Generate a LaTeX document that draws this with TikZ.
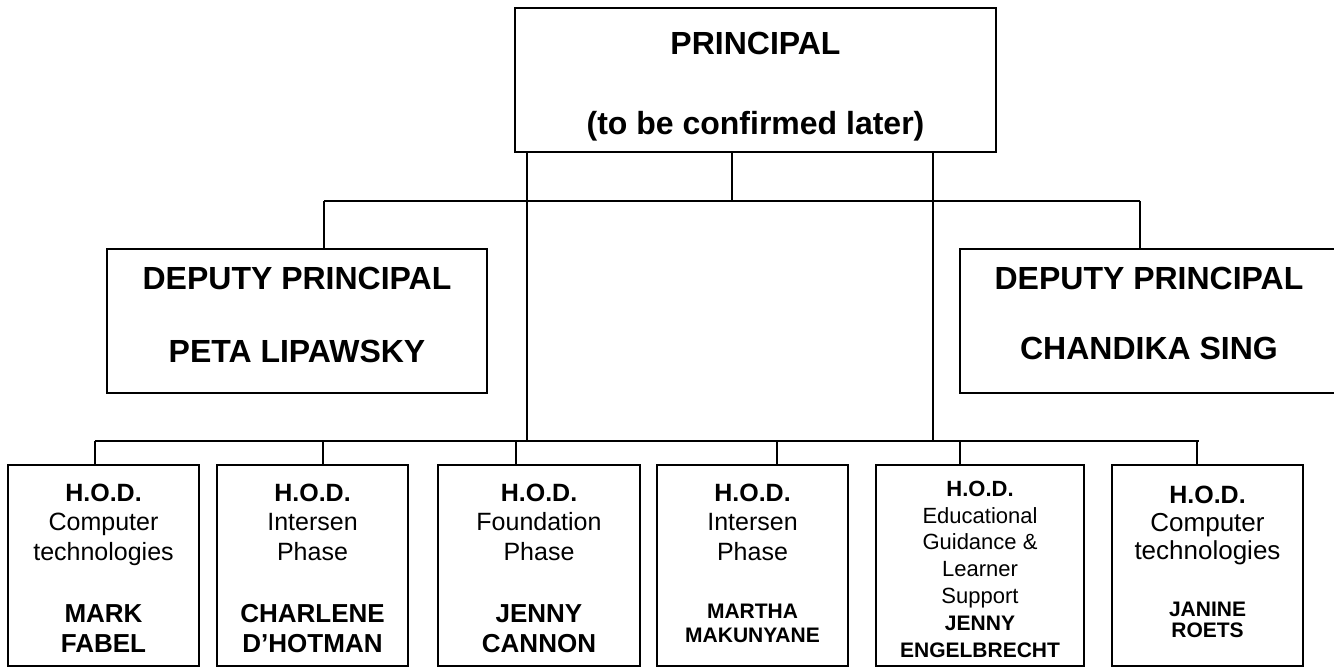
\documentclass[tikz,border=0pt]{standalone}
\usepackage{fontspec}
\setmainfont{Liberation Sans}
\newcommand{\hodname}[2][13]{{\fontsize{#1}{15}\selectfont\bfseries #2}}
\tikzset{
  box/.style={shape=rectangle, draw=black, line width=1.2pt, inner sep=0pt, align=center},
  hod/.style={box, minimum height=100.5pt, text depth=4pt},
  wire/.style={draw=black, line width=0.9pt},
}
\begin{document}
\begin{tikzpicture}[x=0.5pt, y=-0.5pt]
        \useasboundingbox (0,0) rectangle (1334,668);
        \clip (0,0) rectangle (1334,668);

        \node[box, minimum width=240.5pt, minimum height=72pt, text height=59pt, text depth=4pt,
              font=\bfseries\fontsize{16}{40}\selectfont] (principal) at (755.5,80)
              {PRINCIPAL\\(to be confirmed later)};
        \node[box, minimum width=190pt, minimum height=72pt, text height=46pt, text depth=4pt,
              font=\bfseries\fontsize{16}{36.5}\selectfont] (deputy-1) at (297,321)
              {DEPUTY PRINCIPAL\\PETA LIPAWSKY};
        \node[box, minimum width=189pt, minimum height=72pt, text height=43pt, text depth=4pt,
              font=\bfseries\fontsize{16}{35.5}\selectfont] (deputy-2) at (1149,321)
              {DEPUTY PRINCIPAL\\CHANDIKA SING};

        \node[hod, minimum width=95.5pt, text height=90.5pt, font=\fontsize{12.5}{14.75}\selectfont] (hod-1) at (103.5,565.5)
              {\textbf{H.O.D.}\\Computer\\technologies\\[16.5pt]\hodname{MARK}\\\hodname{FABEL}};
        \node[hod, minimum width=95.5pt, text height=90.5pt, font=\fontsize{12.5}{14.75}\selectfont] (hod-2) at (312.5,565.5)
              {\textbf{H.O.D.}\\Intersen\\Phase\\[16.5pt]\hodname{CHARLENE}\\\hodname{D'HOTMAN}};
        \node[hod, minimum width=101pt, text height=90.5pt, font=\fontsize{12.5}{14.75}\selectfont] (hod-3) at (539,565.5)
              {\textbf{H.O.D.}\\Foundation\\Phase\\[16.5pt]\hodname{JENNY}\\\hodname{CANNON}};
        \node[hod, minimum width=95.5pt, text height=80.5pt, font=\fontsize{12.5}{14.75}\selectfont] (hod-4) at (752.5,565.5)
              {\textbf{H.O.D.}\\Intersen\\Phase\\[14.25pt]\hodname[10.5]{MARTHA}\\[-2.75pt]\hodname[10.5]{MAKUNYANE}};
        \node[hod, minimum width=104pt, text height=95.5pt, font=\fontsize{11}{13.4}\selectfont] (hod-5) at (980,565.5)
              {\textbf{H.O.D.}\\Educational\\Guidance \&\\Learner\\Support\\\hodname[10.5]{JENNY}\\\hodname[10.5]{ENGELBRECHT}};
        \node[hod, minimum width=95.5pt, text height=75.5pt, font=\fontsize{13}{14}\selectfont] (hod-6) at (1207.5,565.5)
              {\textbf{\fontsize{12.5}{14}\selectfont H.O.D.}\\Computer\\technologies\\[14.5pt]\hodname[10.5]{JANINE}\\[-3.5pt]\hodname[10.5]{ROETS}};

        % principal down to the deputies and the heads
        \coordinate (top-bus-l) at (324,201);
        \coordinate (top-bus-r) at (1140,201);
        \coordinate (drop-mid) at (732,201);
        \coordinate (drop-l) at (527,441);
        \coordinate (drop-r) at (933,441);
        \coordinate (low-bus-l) at (95,441);
        \coordinate (low-bus-r) at (1199,441);

        \draw[wire] (drop-mid |- principal.south) -- (drop-mid);
        \draw[wire] (drop-l |- principal.south) -- (drop-l);
        \draw[wire] (drop-r |- principal.south) -- (drop-r);
        \draw[wire] (top-bus-l) -- (top-bus-r);
        \draw[wire] (top-bus-l) -- (top-bus-l |- deputy-1.north);
        \draw[wire] (top-bus-r) -- (top-bus-r |- deputy-2.north);
        \draw[wire] (low-bus-l) -- (low-bus-r);

        \foreach \n/\x in {1/95,2/323,3/516,4/777,5/960,6/1197} {
          \coordinate (tap-\n) at (\x,441);
          \draw[wire] (tap-\n) -- (tap-\n |- hod-\n.north);
        }
\end{tikzpicture}
\end{document}
